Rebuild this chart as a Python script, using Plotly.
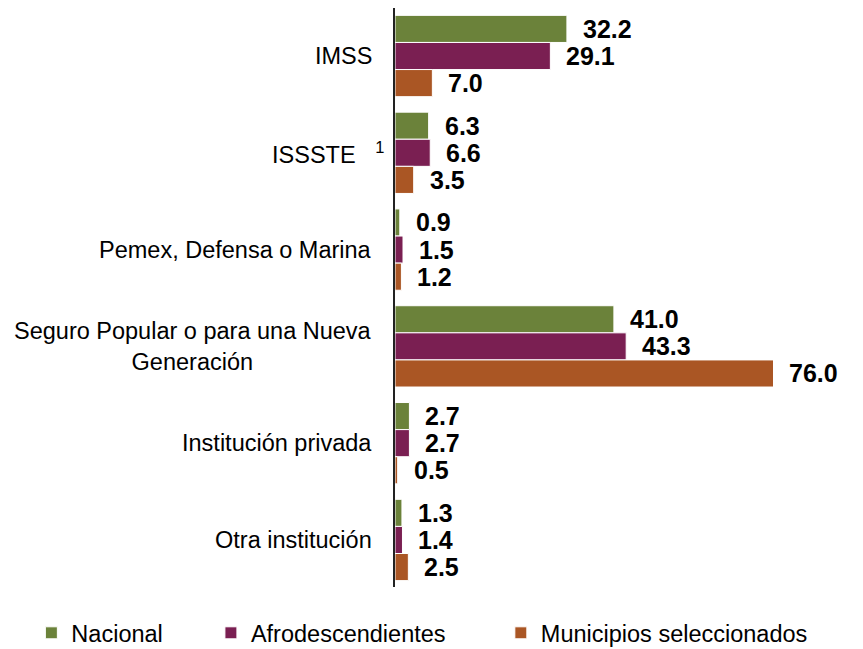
import plotly.graph_objects as go

# Tipo de institución de afiliación (%)
categorias = [
    "IMSS",
    "ISSSTE\u00a0\u00a0\u00a0<sup>1</sup>",
    "Pemex, Defensa o Marina",
    "Seguro Popular o para una Nueva<br>Generación",
    "Institución privada",
    "Otra institución",
]
nacional = [32.2, 6.3, 0.9, 41.0, 2.7, 1.3]
afrodescendientes = [29.1, 6.6, 1.5, 43.3, 2.7, 1.4]
municipios = [7.0, 3.5, 1.2, 76.0, 0.5, 2.5]

series = [
    ("Nacional", nacional, "#6B823A", "legend"),
    ("Afrodescendientes", afrodescendientes, "#7A1F52", "legend2"),
    ("Municipios seleccionados", municipios, "#AA5624", "legend3"),
]

FONT = "Liberation Sans, Arial, sans-serif"
XMAX = 70.8          # the longest bar is cut at the edge, as in the original
BARGAP = 0.16
bar_w = (1 - BARGAP) / len(series)

pos = list(range(len(categorias)))

fig = go.Figure()
annotations = []
for k, (name, vals, color, leg) in enumerate(series):
    fig.add_trace(go.Bar(
        y=pos, x=vals, name=name, orientation="h",
        marker=dict(color=color, line=dict(color="white", width=1)),
        legend=leg, hoverinfo="x+name",
    ))
    off = (k - 1) * bar_w
    for i, v in enumerate(vals):
        annotations.append(dict(
            x=min(v, XMAX), y=i + off, xref="x", yref="y",
            text=f"<b>{v:.1f}</b>", showarrow=False,
            xanchor="left", yanchor="middle", xshift=14,
            font=dict(family=FONT, size=25, color="black"),
        ))

# category labels (centred multi-line text, so annotations instead of ticks)
for i, c in enumerate(categorias):
    annotations.append(dict(
        x=0, y=i, xref="paper", yref="y", text=c, showarrow=False,
        xanchor="right", yanchor="middle",
        xshift=-9 if "sup" in c else -21, align="center",
        font=dict(family=FONT, size=23.5, color="black"),
    ))

leg_common = dict(orientation="h", y=-0.0795, yanchor="middle", xanchor="left",
                  font=dict(family=FONT, size=23.5, color="black"),
                  bgcolor="rgba(0,0,0,0)")

fig.update_layout(
    width=855, height=649,
    margin=dict(l=387, r=90, t=0, b=70),
    plot_bgcolor="white", paper_bgcolor="white",
    barmode="group", bargap=BARGAP, bargroupgap=0,
    showlegend=True,
    legend=dict(x=-0.962, **leg_common),
    legend2=dict(x=-0.487, **leg_common),
    legend3=dict(x=0.28, **leg_common),
    annotations=annotations,
    font=dict(family=FONT, color="black"),
)
fig.update_xaxes(range=[0, XMAX], visible=False, fixedrange=True)
fig.update_yaxes(range=[5.486, -0.496], showline=True, linecolor="#222",
                 linewidth=2, showgrid=False, zeroline=False,
                 showticklabels=False, ticks="")

fig.write_html("out.html")
